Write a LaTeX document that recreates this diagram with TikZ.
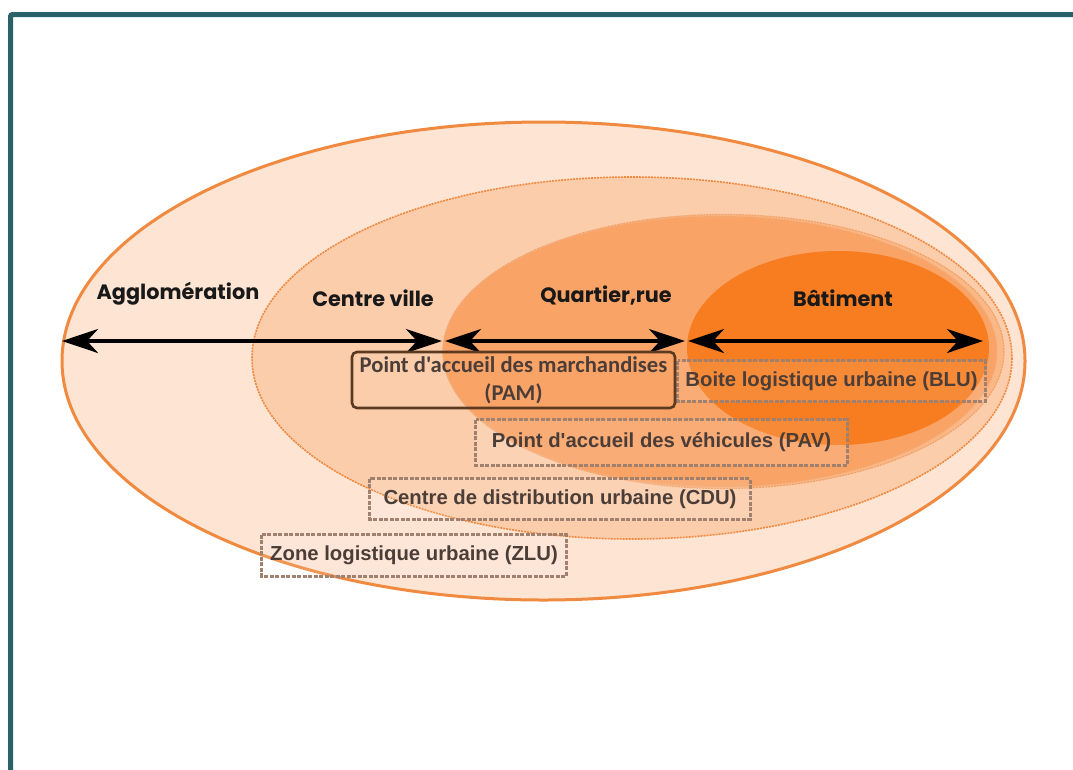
\documentclass[tikz,border=0pt]{standalone}
\usepackage{fontspec}
\usetikzlibrary{arrows.meta}
\newfontfamily\headfont{Poppins}
\newfontfamily\boxfont{Liberation Sans}
\newfontfamily\pamfont{Carlito}
\definecolor{frame}{HTML}{2A6166}
\definecolor{ringline}{HTML}{F08A40}
\definecolor{aggl}{HTML}{FDE4D3}
\definecolor{cville}{HTML}{FBCDAB}
\definecolor{quart}{HTML}{F9A366}
\definecolor{quartrim}{HTML}{FAB886}
\definecolor{batim}{HTML}{F77D20}
\definecolor{boxline}{HTML}{A0806E}
\definecolor{boxtext}{HTML}{4B3D38}
\definecolor{pamline}{HTML}{5B3A1F}
\tikzset{
  heading/.style={font=\headfont\bfseries\fontsize{20.8}{25}\selectfont, text=black!90, inner sep=0pt},
  dbox/.style={inner sep=0pt, font=\boxfont\bfseries\fontsize{20.3}{24}\selectfont, text=boxtext},
  dframe/.style={draw=boxline, line width=3pt, dash pattern=on 4pt off 1.5pt, fill=white, fill opacity=0.1},
  pambox/.style={draw=pamline, line width=2.6pt, rounded corners=5pt, inner sep=0pt,
     font=\pamfont\bfseries\fontsize{22.6}{28}\selectfont, text=boxtext, align=center},
  scalearrow/.style={line width=4pt, black, {Stealth[length=36pt,width=24pt,inset=11pt]}-{Stealth[length=36pt,width=24pt,inset=11pt]}},
}
\begin{document}
\begin{tikzpicture}[x=1pt,y=-1pt]
\useasboundingbox (0,0) rectangle (1073,769);
\fill[white] (0,0) rectangle (1073,769);
% frame
\draw[frame, line width=5pt, rounded corners=2pt] (10.5,775) -- (10.5,14.5) -- (1080,14.5);
% rings
\path[fill=aggl, draw=ringline, line width=3pt] (543.5,361) ellipse [x radius=481.5, y radius=239];
\path[fill=cville, draw=ringline, line width=1.6pt, dash pattern=on 2pt off 1pt] (632,358) ellipse [x radius=380, y radius=181];
\path[fill=quartrim, draw=ringline!80, line width=1.2pt, dash pattern=on 2pt off 1pt] (723.5,351.5) ellipse [x radius=280.5, y radius=137];
\path[fill=quart, draw=ringline!70, line width=1pt, dash pattern=on 2pt off 1pt] (720,351.5) ellipse [x radius=277, y radius=135.5];
\path[fill=batim] (838,348) ellipse [x radius=151, y radius=97];
% headings
\node[heading] (hagg) at (178,294) {Agglomération};
\node[heading] (hcv) at (373,298) {Centre ville};
\node[heading] (hqr) at (606,296) {Quartier,rue};
\node[heading] (hbt) at (843,298) {Bâtiment};
% arrows
\coordinate (p1) at (62,341);
\coordinate (p2) at (442,341);
\coordinate (p3) at (445,341);
\coordinate (p4) at (685,341);
\coordinate (p5) at (688,341);
\coordinate (p6) at (983,341);
\draw[scalearrow] (p1) -- (p2);
\draw[scalearrow] (p3) -- (p4);
\draw[scalearrow] (p5) -- (p6);
% boxes
\node[dbox, minimum width=307pt, minimum height=40pt] (blu) at (831.5,381) {};
\node[dbox, minimum width=371pt, minimum height=45pt] (pav) at (661.5,442.5) {};
\node[dbox, minimum width=380pt, minimum height=40pt] (cdu) at (560,499) {};
\node[dbox, minimum width=304pt, minimum height=41pt] (zlu) at (414,555.5) {};
\foreach \b in {blu,pav,cdu,zlu}
  \path[dframe] (\b.north west) rectangle (\b.south east);
\node[dbox] (blut) at (blu) {Boite logistique urbaine (BLU)};
\node[dbox] (pavt) at (pav) {Point d'accueil des véhicules (PAV)};
\node[dbox] (cdut) at (cdu) {Centre de distribution urbaine (CDU)};
\node[dbox] (zlut) at (zlu) {Zone logistique urbaine (ZLU)};
\node[pambox, minimum width=323pt, minimum height=56pt] (pam) at (513.5,380) {Point d'accueil des marchandises\\(PAM)};
\end{tikzpicture}
\end{document}
